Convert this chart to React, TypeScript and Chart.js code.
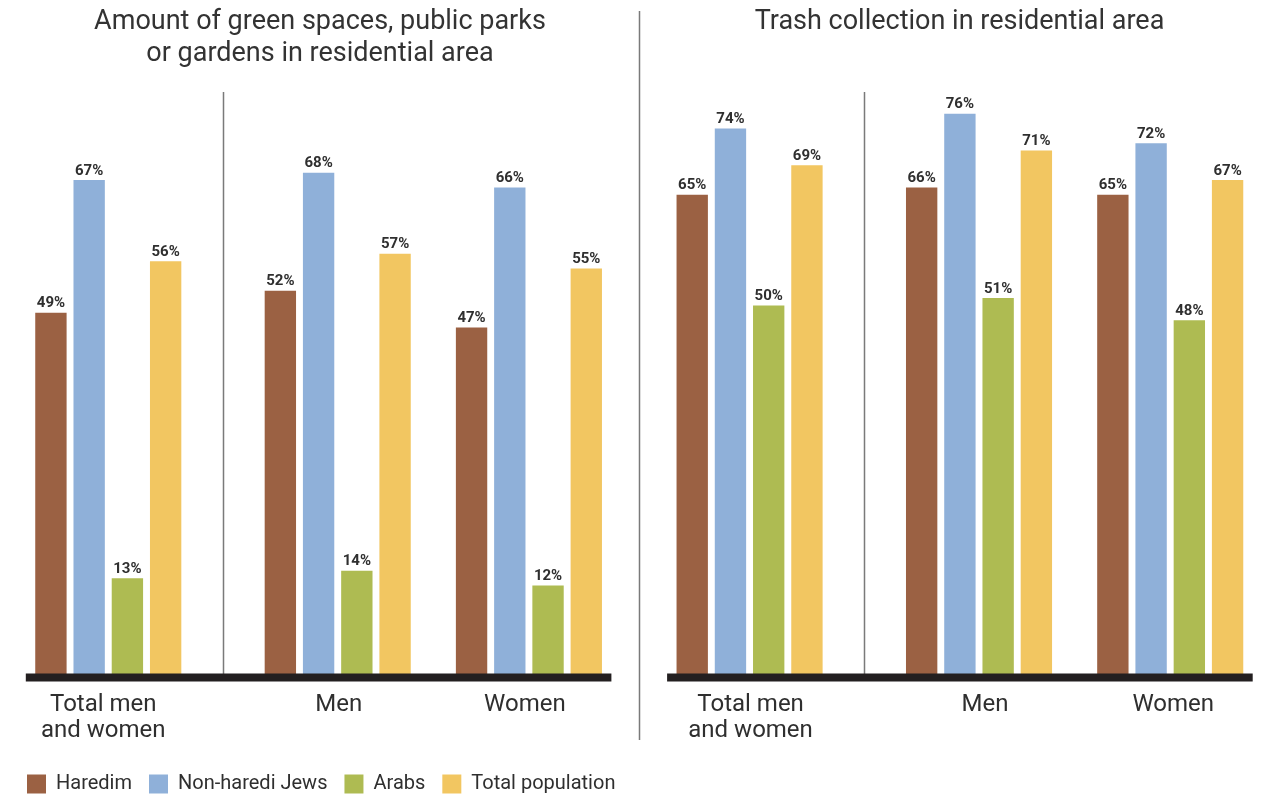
import React, { useEffect, useRef } from "react";
import { Chart, registerables } from "chart.js";

Chart.register(...registerables);

// ---- data ----
const seriesNames = ["Haredim", "Non-haredi Jews", "Arabs", "Total population"];
const seriesColors = ["#9B6143", "#8FB0D9", "#AEBB52", "#F2C661"];
const groupLabels: string[][] = [["Total men", "and women"], ["Men"], ["Women"]];

const greenHaredim = [49, 52, 47];
const greenNonHaredi = [67, 68, 66];
const greenArabs = [13, 14, 12];
const greenTotal = [56, 57, 55];

const trashHaredim = [65, 66, 65];
const trashNonHaredi = [74, 76, 72];
const trashArabs = [50, 51, 48];
const trashTotal = [69, 71, 67];

const greenTitle = ["Amount of green spaces, public parks", "or gardens in residential area"];
const trashTitle = ["Trash collection in residential area"];

// layout of category slots: each group occupies 4 consecutive slots
const groupStart = [0, 6, 11];
const slotCount = 15;
const dividerSlot = 4.5;

const FONT = "Roboto, 'Noto Sans', sans-serif";
const TEXT = "#2f2f2f";
const CANVAS_H = 820;
const PAD_B = 16;
const ZERO_Y = 674;
const Y_MAX = 80;
const PX_PER_UNIT = 7.372;

function buildSeries(values: number[], seriesIdx: number) {
  const arr: (number | null)[] = new Array(slotCount).fill(null);
  values.forEach((v, g) => {
    arr[groupStart[g] + seriesIdx] = v;
  });
  return arr;
}

function makeConfig(
  series: number[][],
  title: string[],
  titleX: number,
  titleBaselines: number[],
  showLegend: boolean,
  padLeft: number,
  leftW: number,
  rightW: number,
  panelLine: number | null,
  labelShift: number[]
): any {
  const labels = new Array(slotCount).fill("").map((_, i) => String(i));
  const datasets = series.map((vals, i) => ({
    label: seriesNames[i],
    data: buildSeries(vals, i),
    backgroundColor: seriesColors[i],
    borderWidth: 0,
    grouped: false,
    barPercentage: 0.82,
    categoryPercentage: 1,
  }));

  const decorPlugin = {
    id: "decor",
    beforeDatasetsDraw(chart: any) {
      const ctx = chart.ctx;
      const xs = chart.scales.x;
      ctx.save();
      const dx = Math.round(xs.getPixelForValue(dividerSlot)) + 0.5;
      ctx.strokeStyle = "#7a7a7a";
      ctx.lineWidth = 1.5;
      ctx.beginPath();
      ctx.moveTo(dx, 92);
      ctx.lineTo(dx, ZERO_Y);
      ctx.stroke();
      if (panelLine !== null) {
        ctx.beginPath();
        ctx.moveTo(panelLine, 11);
        ctx.lineTo(panelLine, 740);
        ctx.stroke();
      }
      ctx.restore();
    },
    afterDatasetsDraw(chart: any) {
      const ctx = chart.ctx;
      const xs = chart.scales.x;
      const ca = chart.chartArea;
      ctx.save();
      // baseline
      ctx.fillStyle = "#231F20";
      ctx.fillRect(ca.left - 6, ZERO_Y - 0.5, ca.right - ca.left + 12, 8);
      // value labels
      ctx.fillStyle = TEXT;
      ctx.font = `bold 15px ${FONT}`;
      ctx.textAlign = "center";
      ctx.textBaseline = "alphabetic";
      chart.data.datasets.forEach((ds: any, di: number) => {
        const meta = chart.getDatasetMeta(di);
        meta.data.forEach((bar: any, i: number) => {
          const v = ds.data[i];
          if (v === null || v === undefined) return;
          ctx.fillText(`${v}%`, bar.x, bar.y - 5.5);
        });
      });
      // category labels
      ctx.font = `400 24px ${FONT}`;
      groupLabels.forEach((lines, g) => {
        const cx = xs.getPixelForValue(groupStart[g] + 1.5) + labelShift[g];
        lines.forEach((ln, li) => {
          ctx.fillText(ln, cx, 711 + li * 26);
        });
      });
      // title
      ctx.fillStyle = "#333333";
      ctx.font = `400 27px ${FONT}`;
      title.forEach((ln, li) => {
        ctx.fillText(ln, titleX, titleBaselines[li]);
      });
      ctx.restore();
    },
  };

  return {
    type: "bar",
    data: { labels, datasets },
    options: {
      responsive: false,
      animation: false,
      devicePixelRatio: 1,
      layout: {
        padding: { left: padLeft, right: 0, top: ZERO_Y - Y_MAX * PX_PER_UNIT, bottom: PAD_B },
      },
      scales: {
        x: {
          display: true,
          grid: { display: false },
          border: { display: false },
          ticks: { display: false },
          afterFit(s: any) {
            const lg = showLegend && s.chart.legend ? s.chart.legend.height : 0;
            s.height = CANVAS_H - PAD_B - lg - ZERO_Y;
          },
        },
        y: {
          display: true,
          min: 0,
          max: Y_MAX,
          grid: { display: false },
          border: { display: false },
          ticks: { display: false },
          afterFit(s: any) {
            s.width = leftW;
          },
        },
        y2: {
          type: "linear",
          position: "right",
          display: true,
          grid: { display: false },
          border: { display: false },
          ticks: { display: false },
          afterFit(s: any) {
            s.width = rightW;
          },
        },
      },
      plugins: {
        title: { display: false },
        tooltip: { enabled: false },
        legend: {
          display: showLegend,
          position: "bottom",
          align: "start",
          labels: {
            boxWidth: 19,
            boxHeight: 19,
            padding: 17,
            color: TEXT,
            font: { family: FONT, size: 20, weight: "400" },
          },
        },
      },
    },
    plugins: [decorPlugin],
  };
}

export default function App() {
  const leftRef = useRef<HTMLCanvasElement | null>(null);
  const rightRef = useRef<HTMLCanvasElement | null>(null);

  useEffect(() => {
    const c1 = new Chart(
      leftRef.current as HTMLCanvasElement,
      makeConfig(
        [greenHaredim, greenNonHaredi, greenArabs, greenTotal],
        greenTitle,
        320,
        [29, 61],
        true,
        10,
        21.8,
        700 - 605.4,
        null,
        [-5, 1, -4]
      )
    );
    const c2 = new Chart(
      rightRef.current as HTMLCanvasElement,
      makeConfig(
        [trashHaredim, trashNonHaredi, trashArabs, trashTotal],
        trashTitle,
        326.5,
        [29],
        false,
        0,
        40.1,
        633 - 613.7,
        6.5,
        [1, 6, 3]
      )
    );
    return () => {
      c1.destroy();
      c2.destroy();
    };
  }, []);

  return (
    <div
      style={{
        position: "absolute",
        left: 0,
        top: 0,
        width: 1266,
        height: 799,
        overflow: "hidden",
        background: "#fff",
      }}
    >
      <canvas
        ref={leftRef}
        width={700}
        height={CANVAS_H}
        style={{ position: "absolute", left: 0, top: 0, width: 700, height: CANVAS_H }}
      />
      <canvas
        ref={rightRef}
        width={633}
        height={CANVAS_H}
        style={{ position: "absolute", left: 633, top: 0, width: 633, height: CANVAS_H }}
      />
    </div>
  );
}
